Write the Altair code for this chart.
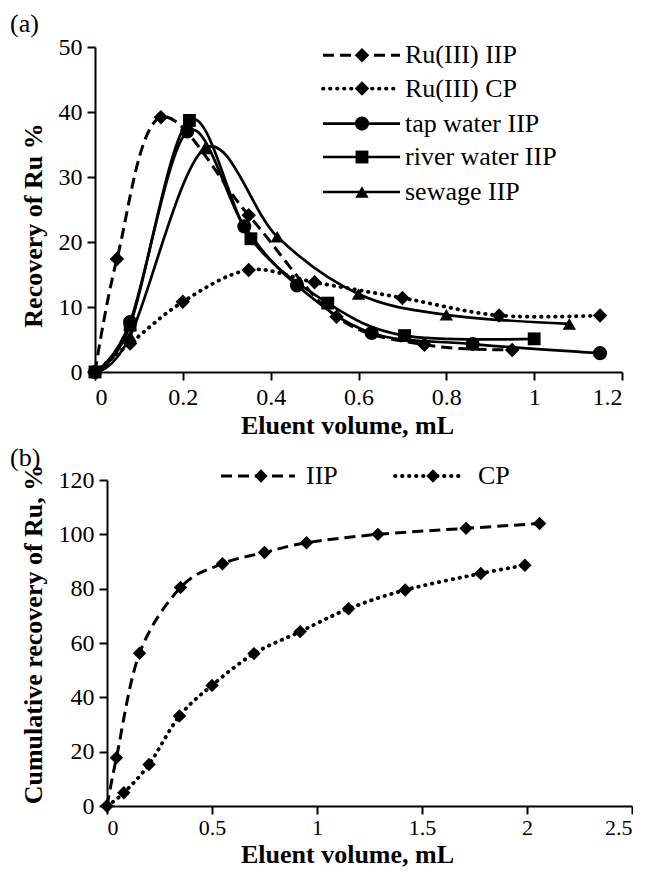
import altair as alt
import pandas as pd

FONT = "Liberation Serif"

# ---------------- Panel (a) data ----------------
a_iip_x = [0, 0.05, 0.15, 0.35, 0.55, 0.75, 0.95]
a_iip_y = [0, 17.4, 39.2, 24.1, 8.5, 4.2, 3.4]

a_cp_x = [0, 0.08, 0.2, 0.35, 0.5, 0.7, 0.92, 1.15]
a_cp_y = [0, 4.4, 10.8, 15.7, 13.8, 11.4, 8.7, 8.7]

a_tap_x = [0, 0.08, 0.21, 0.34, 0.46, 0.63, 0.86, 1.15]
a_tap_y = [0, 7.7, 37.0, 22.4, 13.3, 6.0, 4.3, 2.9]

a_river_x = [0, 0.08, 0.215, 0.355, 0.53, 0.705, 1.0]
a_river_y = [0, 7.2, 38.7, 20.5, 10.6, 5.6, 5.1]

a_sewage_x = [0, 0.08, 0.25, 0.415, 0.6, 0.8, 1.08]
a_sewage_y = [0, 5.5, 34.4, 20.8, 12.0, 8.8, 7.4]

a_x_ticks = [0, 0.2, 0.4, 0.6, 0.8, 1, 1.2]
a_y_ticks = [0, 10, 20, 30, 40, 50]

a_labels = ["Ru(III) IIP", "Ru(III) CP", "tap water IIP", "river water IIP", "sewage IIP"]

# ---------------- Panel (b) data ----------------
b_iip_x = [0, 0.045, 0.155, 0.35, 0.55, 0.75, 0.95, 1.29, 1.71, 2.06]
b_iip_y = [0, 17.8, 56.2, 80.4, 89.2, 93.3, 96.9, 100.0, 102.2, 104.0]

b_cp_x = [0, 0.08, 0.2, 0.345, 0.5, 0.7, 0.92, 1.15, 1.42, 1.78, 1.99]
b_cp_y = [0, 4.9, 15.3, 33.1, 44.4, 56.1, 64.2, 72.6, 79.5, 85.6, 88.6]

b_x_ticks = [0, 0.5, 1, 1.5, 2, 2.5]
b_y_ticks = [0, 20, 40, 60, 80, 100, 120]

b_labels = ["IIP", "CP"]

# ---------------- styles ----------------
DASHED = dict(strokeDash=[11, 6], strokeWidth=3)
DOTTED = dict(strokeDash=[0.5, 6.5], strokeWidth=3.8, strokeCap="round")
SOLID = dict(strokeWidth=2.7)

AXIS = dict(domainColor="black", domainWidth=2, tickColor="black", tickWidth=2,
            tickSize=8, labelFont=FONT, labelColor="black",
            titleFont=FONT, titleFontSize=26, titleFontWeight="bold",
            titleColor="black", grid=False)

one = pd.DataFrame({"k": [0]})


def series(xs, ys, xenc, yenc, style, shape, size):
    df = pd.DataFrame({"x": xs, "y": ys})
    base = alt.Chart(df).encode(x=xenc, y=yenc)
    line = base.mark_line(interpolate="cardinal", color="black", **style)
    pts = base.mark_point(shape=shape, filled=True, color="black", size=size, opacity=1)
    return [line, pts]


def legend_entry(x1, x2, xm, xt, y, style, shape, size, label):
    rule = alt.Chart(one).mark_rule(color="black", **style).encode(
        x=alt.value(x1), x2=alt.value(x2), y=alt.value(y))
    pt = alt.Chart(one).mark_point(shape=shape, filled=True, color="black",
                                   size=size, opacity=1).encode(
        x=alt.value(xm), y=alt.value(y))
    txt = alt.Chart(one).mark_text(align="left", baseline="middle", font=FONT,
                                   fontSize=26, color="black").encode(
        x=alt.value(xt), y=alt.value(y), text=alt.value(label))
    return [rule, pt, txt]


def panel_label(x, y, label):
    return alt.Chart(one).mark_text(align="left", baseline="middle", font=FONT,
                                    fontSize=26, color="black").encode(
        x=alt.value(x), y=alt.value(y), text=alt.value(label))


# ---------------- Panel (a) ----------------
ax = alt.X("x:Q", scale=alt.Scale(domain=[0, 1.2], nice=False),
           axis=alt.Axis(values=a_x_ticks, format="~g", title="Eluent volume, mL",
                         titleX=252, titleY=61, titleBaseline="alphabetic",
                         titleAlign="center", labelPadding=5, labelFontSize=24, **AXIS))
ay = alt.Y("y:Q", scale=alt.Scale(domain=[0, 50], nice=False),
           axis=alt.Axis(values=a_y_ticks, title="Recovery of Ru %",
                         titleX=-62, titleY=178, titleAngle=270,
                         titleBaseline="middle", titleAlign="center",
                         labelPadding=5, labelFontSize=24, **AXIS))

a_layers = []
a_layers += series(a_cp_x, a_cp_y, ax, ay, DOTTED, "diamond", 210)
a_layers += series(a_iip_x, a_iip_y, ax, ay, DASHED, "diamond", 210)
a_layers += series(a_sewage_x, a_sewage_y, ax, ay, SOLID, "triangle-up", 180)
a_layers += series(a_tap_x, a_tap_y, ax, ay, SOLID, "circle", 200)
a_layers += series(a_river_x, a_river_y, ax, ay, SOLID, "square", 165)

a_rows = [8.3, 41.6, 76.6, 110, 145]
a_styles = [(DASHED, "diamond", 210), (DOTTED, "diamond", 210), (SOLID, "circle", 200),
            (SOLID, "square", 165), (SOLID, "triangle-up", 180)]
for yy, (st, sh, sz), lab in zip(a_rows, a_styles, a_labels):
    a_layers += legend_entry(228, 305, 267, 310, yy, st, sh, sz, lab)
a_layers.append(panel_label(-85, -22.7, "(a)"))

chart_a = alt.layer(*a_layers).properties(width=527, height=325)

# ---------------- Panel (b) ----------------
# panel (b)'s plot area starts 12 px to the right of panel (a)'s
SH = 12
bx = alt.X("x:Q", scale=alt.Scale(domain=[0, 2.5], nice=False, range=[SH, SH + 525]),
           axis=alt.Axis(values=b_x_ticks, format="~g", title="Eluent volume, mL",
                         titleX=SH + 240, titleY=56, titleBaseline="alphabetic",
                         titleAlign="center", labelPadding=3, labelFontSize=22, **AXIS))
by = alt.Y("y:Q", scale=alt.Scale(domain=[0, 120], nice=False),
           axis=alt.Axis(values=b_y_ticks, title="Cumulative recovery of Ru, %",
                         titleX=-74, titleY=154, titleAngle=270,
                         titleBaseline="middle", titleAlign="center",
                         offset=-SH, labelPadding=5, labelFontSize=24, **AXIS))

b_layers = []
b_layers += series(b_cp_x, b_cp_y, bx, by, DOTTED, "diamond", 180)
b_layers += series(b_iip_x, b_iip_y, bx, by, DASHED, "diamond", 180)
b_layers += legend_entry(SH + 114, SH + 188, SH + 154, SH + 199, -4, DASHED, "diamond", 180, b_labels[0])
b_layers += legend_entry(SH + 288, SH + 358, SH + 326, SH + 371, -4, DOTTED, "diamond", 180, b_labels[1])
b_layers.append(panel_label(SH - 97, -21.7, "(b)"))

chart_b = alt.layer(*b_layers).properties(width=SH + 525, height=326)

chart = alt.vconcat(chart_a, chart_b, spacing=7).properties(
    padding={"left": 2, "top": 3, "right": 0, "bottom": 0},
    background="white",
).configure_view(stroke=None)

chart.save("out.html", embed_options={"renderer": "svg", "actions": False})
